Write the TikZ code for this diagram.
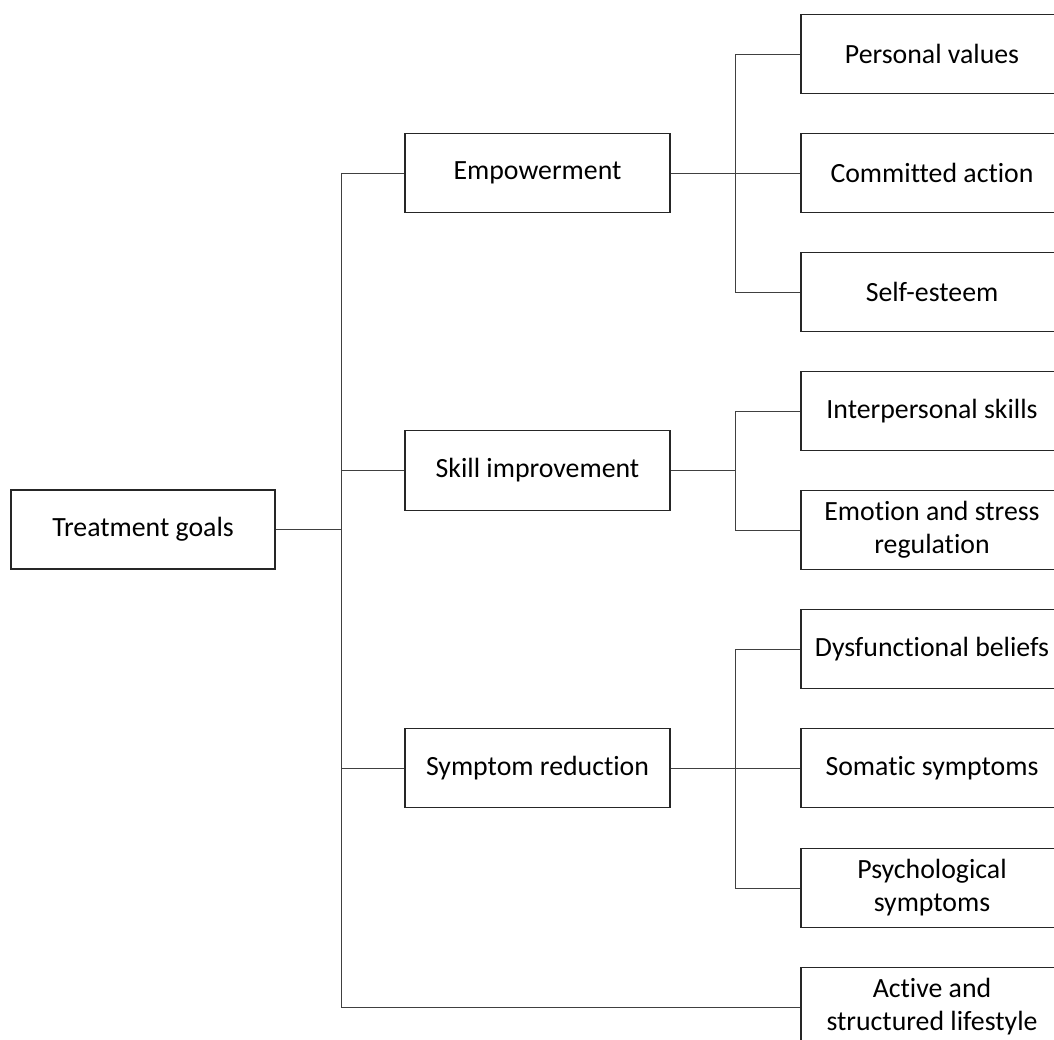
\documentclass[tikz,border=0pt]{standalone}
\usepackage{fontspec}
\setmainfont[Ligatures={NoCommon}]{Carlito}
\begin{document}
\begin{tikzpicture}[x=1pt,y=-1pt,
  box/.style={draw=black!85,line width=1.3pt,fill=white,inner sep=0pt,align=center,
    font=\fontsize{27.8}{33}\selectfont},
  boxa/.style={box,minimum width=264pt,minimum height=79pt},
  boxb/.style={box,minimum width=265pt,minimum height=79.5pt},
  boxc/.style={box,minimum width=262pt,minimum height=79.5pt},
  conn/.style={draw=black!75,line width=0.9pt}]
\useasboundingbox (0,0) rectangle (1054,1040);
\clip (0,0) rectangle (1054,1040);
\coordinate (trunkTop) at (341,173);
\coordinate (trunkBot) at (341,1007);
\coordinate (bx) at (735,0);
% nodes
\node[boxa] (tg) at (143,529.5) {Treatment goals};
\node[boxb] (emp) at (537.5,173) {Empowerment};
\node[boxb] (skill) at (537.5,470.5) {Skill improvement};
\node[boxb] (sym) at (537.5,768) {Symptom reduction};
\node[boxc] (pv) at (932,54) {Personal values};
\node[boxc] (ca) at (932,173) {Committed action};
\node[boxc] (se) at (932,292) {Self-esteem};
\node[boxc] (ip) at (932,411) {Interpersonal skills};
\node[boxc] (es) at (932,530) {Emotion and stress\\regulation};
\node[boxc] (db) at (932,649) {Dysfunctional beliefs};
\node[boxc] (so) at (932,768) {Somatic symptoms};
\node[boxc] (ps) at (932,888) {Psychological\\symptoms};
\node[boxc] (act) at (932,1007) {Active and\\structured lifestyle};
% trunk
\draw[conn] (tg.east) -- (tg.east -| trunkTop);
\draw[conn] (trunkTop) -- (trunkBot) -- (act.west);
\draw[conn] (emp.west) -- (emp.west -| trunkTop);
\draw[conn] (skill.west) -- (skill.west -| trunkTop);
\draw[conn] (sym.west) -- (sym.west -| trunkTop);
% empowerment branch
\draw[conn] (emp.east) -- (ca.west);
\draw[conn] (pv.west) -- (pv.west -| bx) -- (se.west -| bx) -- (se.west);
% skill branch
\draw[conn] (skill.east) -- (skill.east -| bx);
\draw[conn] (ip.west) -- (ip.west -| bx) -- (es.west -| bx) -- (es.west);
% symptom branch
\draw[conn] (sym.east) -- (so.west);
\draw[conn] (db.west) -- (db.west -| bx) -- (ps.west -| bx) -- (ps.west);
\end{tikzpicture}
\end{document}
